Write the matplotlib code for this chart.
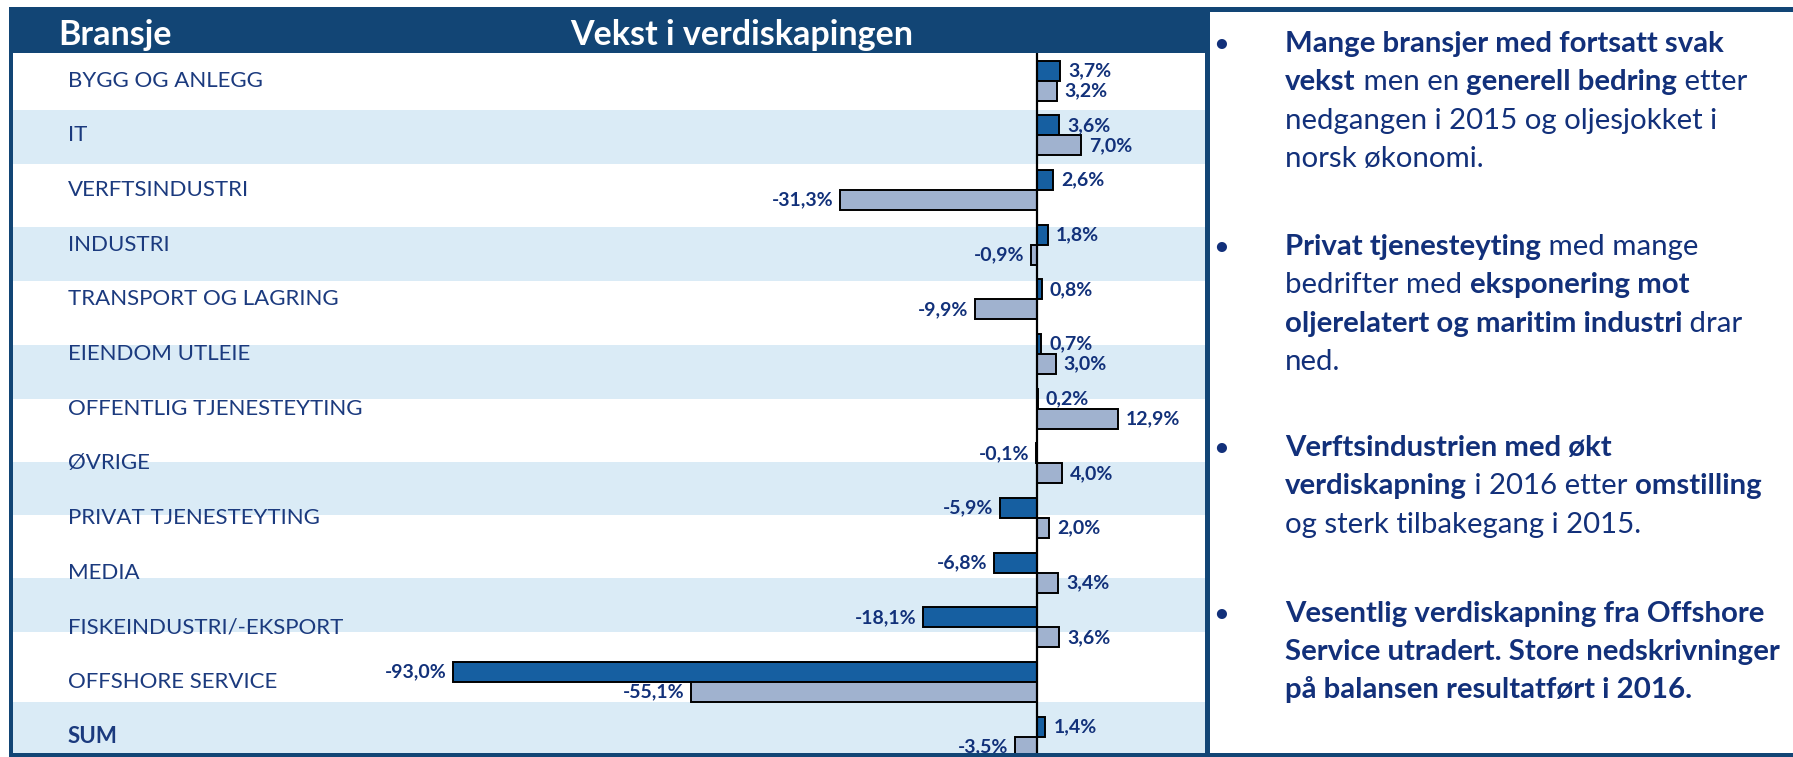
import matplotlib
matplotlib.use("Agg")
import matplotlib.pyplot as plt
from matplotlib.patches import Rectangle
import numpy as np

# ---------------- data ----------------
categories = ["BYGG OG ANLEGG", "IT", "VERFTSINDUSTRI", "INDUSTRI",
              "TRANSPORT OG LAGRING", "EIENDOM UTLEIE", "OFFENTLIG TJENESTEYTING",
              "ØVRIGE", "PRIVAT TJENESTEYTING", "MEDIA", "FISKEINDUSTRI/-EKSPORT",
              "OFFSHORE SERVICE", "SUM"]
vekst_2016 = [3.7, 3.6, 2.6, 1.8, 0.8, 0.7, 0.2, -0.1, -5.9, -6.8, -18.1, -93.0, 1.4]
vekst_2015 = [3.2, 7.0, -31.3, -0.9, -9.9, 3.0, 12.9, 4.0, 2.0, 3.4, 3.6, -55.1, -3.5]

header_left = "Bransje"
header_mid = "Vekst i verdiskapingen"

paragraphs = [
    [[("Mange bransjer med fortsatt svak", True)],
     [("vekst", True), (" men en ", False), ("generell bedring", True), (" etter", False)],
     [("nedgangen i 2015 og oljesjokket i", False)],
     [("norsk økonomi.", False)]],
    [[("Privat tjenesteyting", True), (" med mange", False)],
     [("bedrifter med ", False), ("eksponering mot", True)],
     [("oljerelatert og maritim industri", True), (" drar", False)],
     [("ned.", False)]],
    [[("Verftsindustrien med økt", True)],
     [("verdiskapning", True), (" i 2016 etter ", False), ("omstilling", True)],
     [("og sterk tilbakegang i 2015.", False)]],
    [[("Vesentlig verdiskapning fra Offshore", True)],
     [("Service utradert. Store nedskrivninger", True)],
     [("på balansen resultatført i 2016.", True)]],
]

# ---------------- style ----------------
W, H = 1793, 757
DPI = 100
FONT = "Lato"
C_HEAD = "#124575"
C_BAND = "#DAEBF6"
C_DARK = "#165FA1"
C_LIGHT = "#A0B2CF"
C_TXT = "#1B3A7E"
C_VAL = "#12317A"
C_RTXT = "#12307A"

plt.rcParams["font.family"] = [FONT, "DejaVu Sans"]

fig = plt.figure(figsize=(W / DPI, H / DPI), dpi=DPI)
fig.patch.set_facecolor("white")


def fx(px):
    return px / W


def fy(py):
    return 1 - py / H


def frect(x0, y0, x1, y1, color, z=0):
    fig.patches.append(Rectangle((fx(x0), fy(y1)), fx(x1) - fx(x0), fy(y0) - fy(y1),
                                 transform=fig.transFigure, facecolor=color,
                                 edgecolor="none", zorder=z))


# light-blue row bands of the table (pixel rows)
band_rows = [(110, 164), (227, 281), (345, 399), (462, 515), (578, 632), (702, 757)]
for y0, y1 in band_rows:
    frect(13, y0, 1207, y1, C_BAND, z=-5)

# ---------------- chart axes ----------------
ax_left, ax_right, ax_top, ax_bottom = 13, 1205, 53.4, 757
zero_px = 1036.7
px_per_pct = 6.28
cat_px = 54.67

ax = fig.add_axes([fx(ax_left), fy(ax_bottom), fx(ax_right) - fx(ax_left),
                   fy(ax_top) - fy(ax_bottom)])
ax.set_zorder(1)
ax.patch.set_alpha(0)
ax.set_xlim((ax_left - zero_px) / px_per_pct, (ax_right - zero_px) / px_per_pct)
ax.set_ylim(-0.5 + (ax_bottom - ax_top) / cat_px, -0.5)
for s in ax.spines.values():
    s.set_visible(False)
ax.set_xticks([])
ax.set_yticks([])

y = np.arange(len(categories))
bh = 0.366
ax.barh(y - bh / 2, vekst_2016, height=bh, color=C_DARK, edgecolor="black", linewidth=1.4, zorder=3)
ax.barh(y + bh / 2, vekst_2015, height=bh, color=C_LIGHT, edgecolor="black", linewidth=1.4, zorder=3)
ax.axvline(0, color="black", linewidth=1.6, zorder=4)

off = 8 / px_per_pct


def fmt(v):
    return f"{v:.1f}".replace(".", ",") + "%"


VSIZE = 14
for vals, dy in ((vekst_2016, -bh / 2), (vekst_2015, bh / 2)):
    for i, v in enumerate(vals):
        if v >= 0:
            ax.text(v + off, i + dy, fmt(v), ha="left", va="center", fontsize=VSIZE,
                    fontweight="bold", color=C_VAL, zorder=5, clip_on=True)
        else:
            ax.text(v - off * 0.8, i + dy, fmt(v), ha="right", va="center", fontsize=VSIZE,
                    fontweight="bold", color=C_VAL, zorder=5, clip_on=True)

for i, c in enumerate(categories):
    ax.text((68 - ax_left) / (ax_right - ax_left), i, c,
            transform=ax.get_yaxis_transform(), ha="left", va="center",
            fontsize=16, color=C_TXT, fontweight="bold" if c == "SUM" else "normal")

# ---------------- frame / header ----------------
frect(9, 7, 1210, 53.4, C_HEAD, z=5)            # header band
frect(9, 7, W, 12, C_HEAD, z=5)                 # top line
frect(9, 7, 13, H, C_HEAD, z=5)                 # left border
frect(9, 753, W, H, C_HEAD, z=5)                # bottom border
frect(1205, 53, 1210, H, C_HEAD, z=5)           # separator

fig.text(fx(58), fy(45), header_left, color="white", fontsize=24.5, fontweight="bold",
         ha="left", va="baseline", zorder=6)
fig.text(fx(742), fy(45), header_mid, color="white", fontsize=24.5, fontweight="bold",
         ha="center", va="baseline", zorder=6)

# ---------------- right-hand text ----------------
renderer = fig.canvas.get_renderer()


def seg_width(txt, bold, size):
    a = fig.text(0, 0, "|" + txt + "|", fontsize=size, fontweight="bold" if bold else "normal")
    b = fig.text(0, 0, "||", fontsize=size, fontweight="bold" if bold else "normal")
    w = a.get_window_extent(renderer).width - b.get_window_extent(renderer).width
    a.remove()
    b.remove()
    return w


TSIZE = 21.2
para_baselines = [[51.7, 90.3, 128.6, 166.9], [255, 293.3, 331.6, 369.9],
                  [456, 494.3, 532.6], [621.7, 660, 698.3]]
text_x = 1285
bullet_x = 1213
for para, bls in zip(paragraphs, para_baselines):
    fig.text(fx(bullet_x), fy(bls[0]), "•", fontsize=19.5, color=C_RTXT, ha="left",
             va="baseline")
    for line, bl in zip(para, bls):
        x = text_x
        for txt, bold in line:
            fig.text(fx(x), fy(bl), txt, fontsize=TSIZE, color=C_RTXT,
                     fontweight="bold" if bold else "normal", ha="left", va="baseline")
            x += seg_width(txt, bold, TSIZE)

fig.savefig("out.png", dpi=DPI, facecolor="white")
